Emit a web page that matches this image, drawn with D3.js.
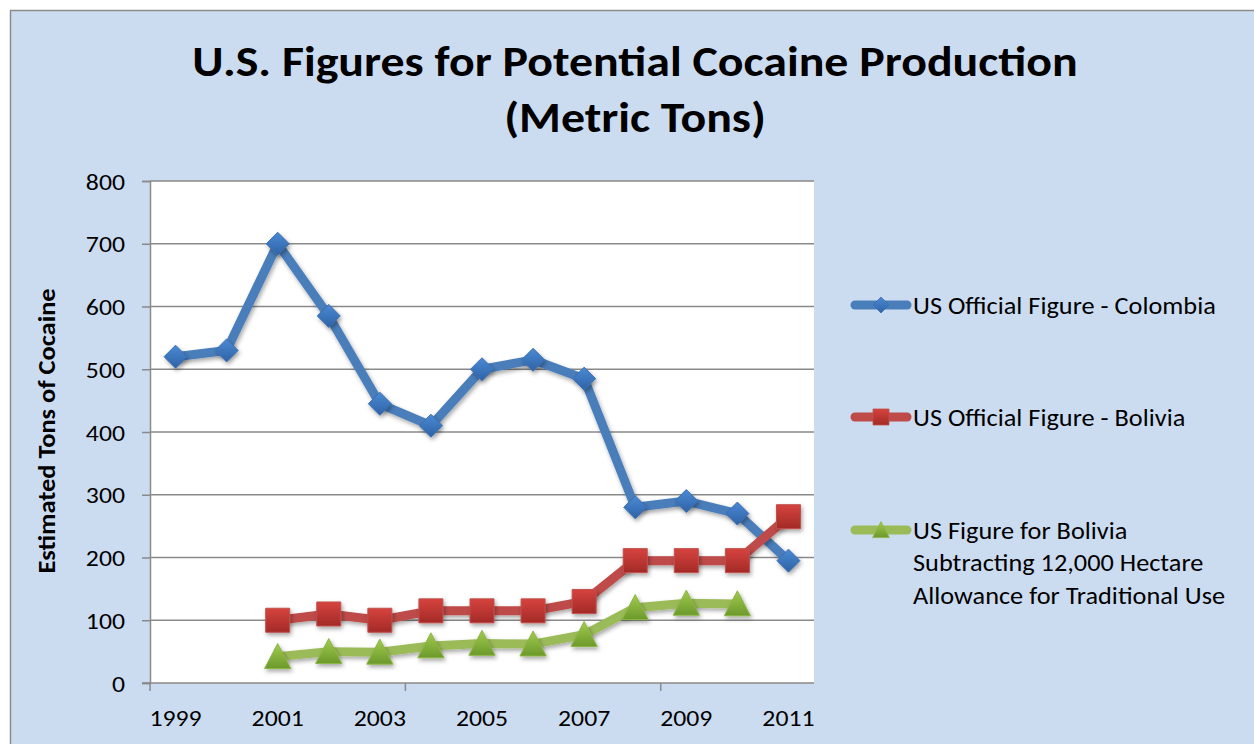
<!DOCTYPE html>
<html>
<head>
<meta charset="utf-8">
<script src="https://cdn.jsdelivr.net/npm/d3@7"></script>
<style>
  html, body { margin: 0; padding: 0; background: #ffffff; }
  svg { display: block; }
  text { font-family: Carlito, Lato, "Open Sans", sans-serif; fill: #000; }
</style>
</head>
<body>
<svg id="chart" width="1254" height="744"></svg>
<script>
// Years on the category axis
const years = ["1999","2000","2001","2002","2003","2004","2005","2006","2007","2008","2009","2010","2011"];
// Labels shown on the category axis (every other year)
const yearLabels = ["1999","2001","2003","2005","2007","2009","2011"];
// Value axis ticks
const yTicks = [0, 100, 200, 300, 400, 500, 600, 700, 800];

// Potential cocaine production, metric tons (null = no estimate)
const colombia = [520, 530, 700, 585, 445, 410, 500, 515, 485, 280, 290, 270, 195];
const bolivia = [null, null, 100, 110, 100, 115, 115, 115, 130, 195, 195, 195, 265];
const boliviaAdjusted = [null, null, 42, 50, 49, 59, 63, 62, 77, 120, 127, 126, null];

const seriesNames = [
  "US Official Figure - Colombia",
  "US Official Figure - Bolivia",
  "US Figure for Bolivia Subtracting 12,000 Hectare Allowance for Traditional Use"
];

const svg = d3.select("#chart");

// Text helper: places a string at (x, y) with a slight horizontal widening
function label(parent, x, y, str, opts = {}) {
  const sx = opts.sx || 1.12;
  const g = parent.append("g")
    .attr("transform", `translate(${x},${y}) ${opts.rotate ? `rotate(${opts.rotate})` : ""} scale(${sx},1)`);
  return g.append("text")
    .attr("x", 0).attr("y", 0)
    .attr("text-anchor", opts.anchor || "start")
    .attr("font-size", opts.size || 23)
    .attr("font-weight", opts.weight || "normal")
    .text(str);
}

// Chart area background with border
svg.append("rect")
  .attr("x", 10.5).attr("y", 10.5)
  .attr("width", 1260).attr("height", 760)
  .attr("fill", "#ccdcf0")
  .attr("stroke", "#8c8c8c")
  .attr("stroke-width", 1.5);

// Title
label(svg, 635, 76, "U.S. Figures for Potential Cocaine Production",
  { anchor: "middle", size: 42, weight: "bold", sx: 1.14 });
label(svg, 635, 132, "(Metric Tons)",
  { anchor: "middle", size: 42, weight: "bold", sx: 1.14 });

// Plot area
const plot = { left: 150, right: 814, top: 181, bottom: 683 };

const x = d3.scaleBand().domain(years).range([plot.left, plot.right]).padding(0);
const y = d3.scaleLinear().domain([0, 800]).range([plot.bottom, plot.top]);

svg.append("rect")
  .attr("x", plot.left).attr("y", plot.top)
  .attr("width", plot.right - plot.left).attr("height", plot.bottom - plot.top)
  .attr("fill", "#ffffff");

// Horizontal gridlines
svg.append("g")
  .selectAll("line")
  .data(yTicks.filter(d => d > 0))
  .join("line")
  .attr("x1", plot.left).attr("x2", plot.right)
  .attr("y1", d => y(d)).attr("y2", d => y(d))
  .attr("stroke", "#8a8a8a").attr("stroke-width", 1.5);

// Value axis (line and tick marks from d3.axisLeft, labels drawn separately)
const yAxis = svg.append("g")
  .attr("transform", `translate(${plot.left},0)`)
  .call(d3.axisLeft(y).tickValues(yTicks).tickSize(8).tickFormat(""));
yAxis.select(".domain").attr("stroke", "#8a8a8a").attr("stroke-width", 1.5);
yAxis.selectAll(".tick line").attr("stroke", "#8a8a8a").attr("stroke-width", 1.5);
const yLabels = svg.append("g");
yTicks.forEach(t => label(yLabels, 125, y(t) + 8.5, String(t), { anchor: "end" }));

// Category axis: tick marks every five years at category boundaries, labels every other year
const xAxisG = svg.append("g").attr("transform", `translate(0,${plot.bottom})`);
xAxisG.append("line")
  .attr("x1", plot.left - 8).attr("x2", plot.right)
  .attr("y1", 0).attr("y2", 0)
  .attr("stroke", "#8a8a8a").attr("stroke-width", 1.5);
const tickBounds = [0, 5, 10].map(i => x(years[i]));
xAxisG.selectAll("line.tick")
  .data(tickBounds)
  .join("line")
  .attr("class", "tick")
  .attr("x1", d => d).attr("x2", d => d)
  .attr("y1", 0).attr("y2", 8)
  .attr("stroke", "#8a8a8a").attr("stroke-width", 1.5);
yearLabels.forEach(d => label(xAxisG, x(d) + x.bandwidth() / 2, 43, d, { anchor: "middle" }));

// Value axis title
label(svg, 55, (plot.top + plot.bottom) / 2 - 1, "Estimated Tons of Cocaine",
  { anchor: "middle", size: 24, weight: "bold", rotate: -90, sx: 1.1 });

// Gradients and shadow for markers
const defs = svg.append("defs");
const styles = [
  { line: "#4a7ebb", top: "#4a8ad4", bottom: "#2f62a6", edge: "#3a6fb3", shape: "diamond" },
  { line: "#be4b48", top: "#d6433e", bottom: "#a32a27", edge: "#c0504d", shape: "square" },
  { line: "#9bbb59", top: "#a2cb4e", bottom: "#6b992b", edge: "#8db544", shape: "triangle" }
];
styles.forEach((s, i) => {
  const g = defs.append("linearGradient")
    .attr("id", "grad" + i)
    .attr("x1", 0).attr("y1", 0).attr("x2", 0).attr("y2", 1);
  g.append("stop").attr("offset", "0%").attr("stop-color", s.top);
  g.append("stop").attr("offset", "100%").attr("stop-color", s.bottom);
});
const shadow = defs.append("filter").attr("id", "shadow")
  .attr("x", "-50%").attr("y", "-50%").attr("width", "200%").attr("height", "200%");
shadow.append("feDropShadow")
  .attr("dx", 1.5).attr("dy", 2.5).attr("stdDeviation", 2)
  .attr("flood-color", "#000").attr("flood-opacity", 0.35);

function markerPath(shape, r) {
  if (shape === "diamond") return `M0,${-r}L${r},0L0,${r}L${-r},0Z`;
  if (shape === "square") return `M${-r},${-r}H${r}V${r}H${-r}Z`;
  return `M0,${-r * 1.05}L${r * 1.05},${r * 0.95}H${-r * 1.05}Z`;
}
const markerSize = [11.5, 12, 12.5];

const allSeries = [colombia, bolivia, boliviaAdjusted];
const line = d3.line()
  .defined(d => d.v != null)
  .x(d => x(d.year) + x.bandwidth() / 2)
  .y(d => y(d.v));

allSeries.forEach((vals, i) => {
  const pts = years.map((yr, j) => ({ year: yr, v: vals[j] }));
  const g = svg.append("g");
  g.append("path")
    .datum(pts)
    .attr("d", line)
    .attr("fill", "none")
    .attr("stroke", styles[i].line)
    .attr("stroke-width", 9)
    .attr("stroke-linejoin", "round")
    .attr("filter", "url(#shadow)");
  g.selectAll("path.mk")
    .data(pts.filter(d => d.v != null))
    .join("path")
    .attr("class", "mk")
    .attr("transform", d => `translate(${x(d.year) + x.bandwidth() / 2},${y(d.v)})`)
    .attr("d", markerPath(styles[i].shape, markerSize[i]))
    .attr("fill", `url(#grad${i})`)
    .attr("stroke", styles[i].edge)
    .attr("stroke-width", 1)
    .attr("filter", "url(#shadow)");
});

// Legend
const legendRows = [
  { lines: [seriesNames[0]], y: 305 },
  { lines: [seriesNames[1]], y: 417 },
  { lines: ["US Figure for Bolivia", "Subtracting 12,000 Hectare", "Allowance for Traditional Use"], y: 530 }
];
legendRows.forEach((row, i) => {
  const g = svg.append("g");
  g.append("line")
    .attr("x1", 855).attr("x2", 907)
    .attr("y1", row.y).attr("y2", row.y)
    .attr("stroke", styles[i].line)
    .attr("stroke-width", 9)
    .attr("stroke-linecap", "round");
  g.append("path")
    .attr("transform", `translate(881,${row.y})`)
    .attr("d", markerPath(styles[i].shape, 8))
    .attr("fill", `url(#grad${i})`)
    .attr("stroke", styles[i].edge)
    .attr("stroke-width", 0.8);
  row.lines.forEach((ln, k) => {
    label(g, 913, row.y + 8.5 + k * 32.5, ln, { size: 23.5 });
  });
});
</script>
</body>
</html>
